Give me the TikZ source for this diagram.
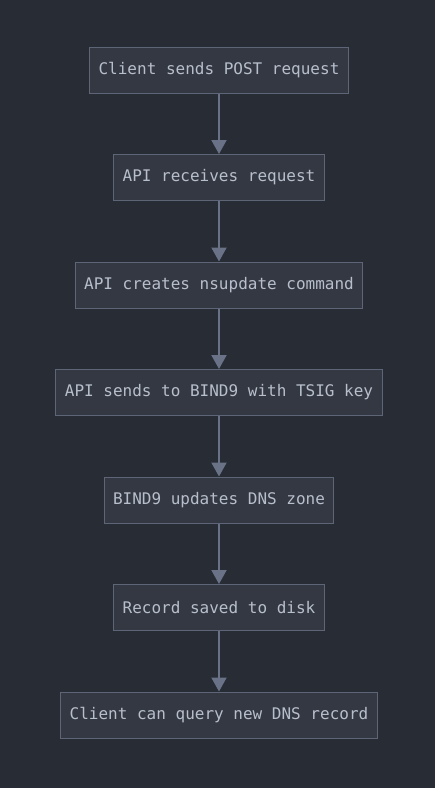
\documentclass[tikz,border=0pt]{standalone}
\usepackage{fontspec}
\setmonofont{DejaVu Sans Mono}
\usetikzlibrary{positioning,arrows.meta}
\definecolor{bgdark}{HTML}{282C34}
\definecolor{boxfill}{HTML}{343842}
\definecolor{boxline}{HTML}{5E6577}
\definecolor{boxtext}{HTML}{B8BFCC}
\definecolor{flowline}{HTML}{6A7288}
\tikzset{
  stepbox/.style={draw=boxline, fill=boxfill, line width=1pt, text=boxtext,
    font=\ttfamily\fontsize{16pt}{18pt}\selectfont, inner xsep=9pt,
    minimum height=46pt},
  flow/.style={draw=flowline, line width=2pt, -{Triangle[length=14pt,width=15pt]}}
}
\begin{document}
\begin{tikzpicture}[x=1pt,y=1pt,node distance=60.5pt]
  \fill[bgdark] (0,0) rectangle (435,-788);
  \useasboundingbox (0,0) rectangle (435,-788);
  \node[stepbox] (post) at (219,-70) {Client sends POST request};
  \node[stepbox, below=of post] (recv) {API receives request};
  \node[stepbox, below=of recv] (cmd) {API creates nsupdate command};
  \node[stepbox, below=of cmd] (tsig) {API sends to BIND9 with TSIG key};
  \node[stepbox, below=of tsig] (zone) {BIND9 updates DNS zone};
  \node[stepbox, below=of zone] (disk) {Record saved to disk};
  \node[stepbox, below=of disk] (query) {Client can query new DNS record};
  \begin{scope}[flow]
    \draw (post) to (recv);
    \draw (recv) to (cmd);
    \draw (cmd) to (tsig);
    \draw (tsig) to (zone);
    \draw (zone) to (disk);
    \draw (disk) to (query);
  \end{scope}
\end{tikzpicture}
\end{document}
